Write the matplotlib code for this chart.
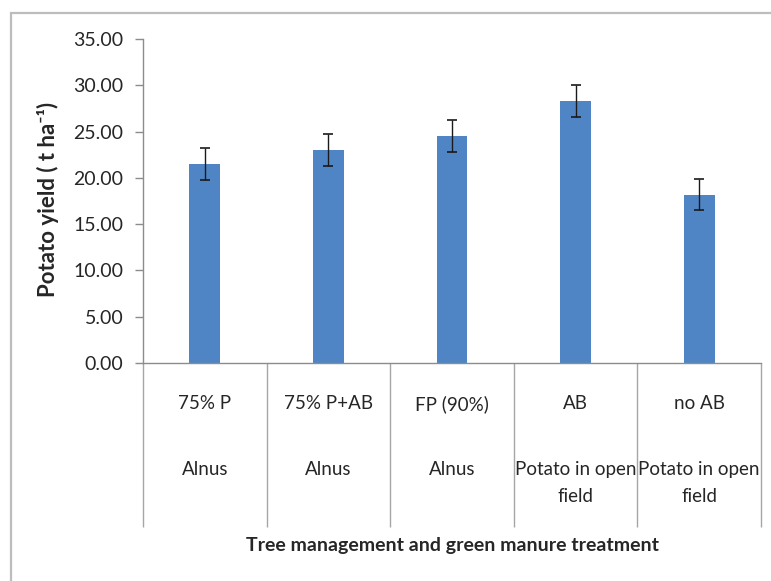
import numpy as np
import matplotlib
matplotlib.use("Agg")
from matplotlib import pyplot as plt
from matplotlib.patches import Rectangle

plt.rcParams['font.family'] = ['Lato', 'DejaVu Sans']

# chart data
treatments = ["75% P", "75% P+AB", "FP (90%)", "AB", "no AB"]
groups = ["Alnus", "Alnus", "Alnus", "Potato in open\nfield", "Potato in open\nfield"]
yield_mean = [21.5, 23.0, 24.5, 28.3, 18.2]
yield_err = [1.7, 1.7, 1.7, 1.7, 1.7]
yticks = [0, 5, 10, 15, 20, 25, 30, 35]

BAR_COLOR = '#4F85C4'
AXIS_GRAY = '#8C8C8C'
TEXT_COLOR = '#262626'

fig = plt.figure(figsize=(7.71, 5.81), dpi=100)
ax = fig.add_axes([143 / 771, 218 / 581, 618 / 771, 324 / 581])

# outer chart-area frame (runs off the right/bottom edge of the picture)
fig.add_artist(Rectangle((11 / 771, -0.1), 1.1, 1.1 - 13 / 581,
                         transform=fig.transFigure, fill=False,
                         edgecolor='#BDBDBD', linewidth=1.6))

x = np.arange(len(treatments))
ax.bar(x, yield_mean, width=0.25, color=BAR_COLOR, zorder=2)
ax.errorbar(x, yield_mean, yerr=yield_err, fmt='none', ecolor='#1a1a1a',
            elinewidth=1.0, capsize=3.6, capthick=1.2, zorder=3)

ax.set_xlim(-0.5, len(treatments) - 0.5)
ax.set_ylim(0, 35)
ax.set_yticks(yticks, ["%.2f" % v for v in yticks])
ax.tick_params(axis='y', direction='out', length=6, width=1, color=AXIS_GRAY,
               pad=8, labelsize=14, labelcolor=TEXT_COLOR)

# category labels, first level on the ticks
ax.set_xticks(x, treatments)
ax.tick_params(axis='x', which='major', length=0, pad=23, labelsize=13.5,
               labelcolor=TEXT_COLOR)
# long separators between categories (excel multi-level axis look)
ax.set_xticks(np.arange(-0.5, len(treatments)), minor=True)
ax.tick_params(axis='x', which='minor', direction='out', length=118, width=1,
               color='#A6A6A6')

# second level labels
for i, g in enumerate(groups):
    ax.annotate(g, xy=(i, 0), xycoords=('data', 'axes fraction'),
                xytext=(0, -70.5), textcoords='offset points', ha='center',
                va='top', fontsize=13.5, color=TEXT_COLOR, linespacing=1.75,
                annotation_clip=False)

for s in ['top', 'right']:
    ax.spines[s].set_visible(False)
for s in ['left', 'bottom']:
    ax.spines[s].set_color(AXIS_GRAY)
    ax.spines[s].set_linewidth(1)

ax.set_ylabel("Potato yield ( t ha\u207b\u00b9)", fontsize=16, fontweight='bold',
              color=TEXT_COLOR)
ax.yaxis.set_label_coords(-0.136, 0.505)
ax.set_xlabel("Tree management and green manure treatment", fontsize=14,
              fontweight='bold', color=TEXT_COLOR)
ax.xaxis.label.set_va('center')
ax.xaxis.set_label_coords(0.5, -0.562)

plt.savefig("out.png", dpi=100)
plt.close()
